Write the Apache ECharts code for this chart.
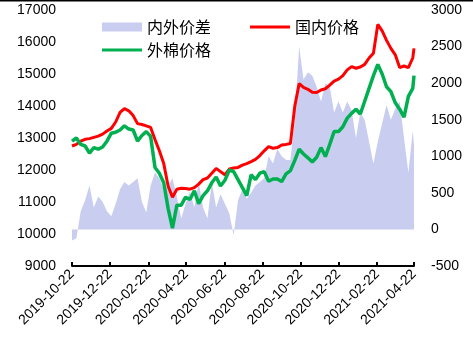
<!DOCTYPE html>
<html>
<head>
<meta charset="utf-8">
<script src="https://cdn.jsdelivr.net/npm/echarts@6/dist/echarts.min.js"></script>
<style>
html,body{margin:0;padding:0;background:#fff;}
#c{width:473px;height:355px;}
</style>
</head>
<body>
<div id="c"></div>
<script>
// Weekly observations starting 2019-10-22, last point 2021-04-22
const startDay = [2019, 9, 22];
const endDay = [2021, 3, 22];
const tickDates = ['2019-10-22','2019-12-22','2020-02-22','2020-04-22','2020-06-22','2020-08-22','2020-10-22','2020-12-22','2021-02-22','2021-04-22'];

const domestic = [12750,12800,12900,12960,12980,13020,13060,13120,13220,13300,
  13500,13800,13920,13850,13700,13450,13420,13380,13330,12950,
  12600,12200,11500,11150,11400,11430,11420,11400,11450,11560,
  11700,11750,11900,12050,11950,11850,12030,12060,12080,12150,
  12200,12260,12330,12450,12600,12730,12680,12700,12780,12800,
  12830,14000,14700,14580,14520,14430,14420,14500,14540,14650,
  14780,14840,14950,15130,15230,15180,15220,15300,15500,15650,
  16550,16350,16050,15800,15600,15200,15250,15200,15500,15800];

const foreign = [12900,13000,12800,12750,12530,12700,12650,12720,12900,13150,
  13180,13250,13380,13280,13250,12900,13080,13200,13050,12080,
  11900,11600,10800,10180,10900,10900,11150,11080,11350,10950,
  11200,11350,11600,11780,11500,11680,12000,11950,11700,11450,
  11200,11850,11700,11900,11950,11650,11720,11720,11640,11880,
  11980,12300,12650,12500,12380,12250,12400,12700,12420,12800,
  13200,13200,13350,13620,13770,13900,13750,14150,14550,14950,
  15300,15000,14600,14450,14100,13900,13650,14300,14550,14950];

const spread = [-150,-120,250,400,600,300,450,380,250,180,
  350,550,650,600,650,700,380,230,600,780,
  700,550,600,700,450,150,350,520,300,650,
  300,150,650,300,480,350,220,-80,400,550,
  420,500,600,650,700,1000,900,1100,1000,950,
  950,1500,2500,2050,2150,2100,1950,1750,2000,1950,
  1600,1750,1600,1750,1630,1250,1600,1500,1200,900,
  1200,1450,1700,1500,1650,1750,1250,780,1350,1150];

const leftTicks = {min: 9000, max: 17000, interval: 1000};
const rightTicks = {min: -500, max: 3000, interval: 500};

function dayTs(y, m, d) { return new Date(y, m, d).getTime(); }
const dates = [];
for (let k = 0; k < domestic.length - 1; k++) {
  dates.push(dayTs(startDay[0], startDay[1], startDay[2] + 7 * k));
}
dates.push(dayTs(endDay[0], endDay[1], endDay[2]));
const tickTs = tickDates.map(s => { const p = s.split('-').map(Number); return dayTs(p[0], p[1]-1, p[2]); });

function pad(n){ return (n < 10 ? '0' : '') + n; }
function fmt(ts){ const d = new Date(ts); return d.getFullYear() + '-' + pad(d.getMonth()+1) + '-' + pad(d.getDate()); }

const zip = arr => arr.map((v, i) => [dates[i], v]);

const numFont = 'Liberation Sans';
const cjkFont = '"Noto Sans CJK SC", "Noto Sans", sans-serif';

const chart = echarts.init(document.getElementById('c'));
chart.setOption({
  animation: false,
  backgroundColor: '#fff',
  grid: {left: 72, right: 59, top: 10, bottom: 89, containLabel: false, outerBoundsMode: 'none'},
  graphic: [{type: 'rect', left: 0, top: 0, shape: {width: 473, height: 1.5}, style: {fill: '#000'}, silent: true}],
  legend: [
    {data: ['内外价差'], left: 97, top: 14, icon: 'rect', itemWidth: 40, itemHeight: 9, itemGap: 10,
     textStyle: {fontSize: 16, color: '#000', fontFamily: cjkFont}, selectedMode: false},
    {data: ['国内价格'], left: 245, top: 14, icon: 'rect', itemWidth: 40, itemHeight: 3,
     textStyle: {fontSize: 16, color: '#000', fontFamily: cjkFont}, selectedMode: false},
    {data: ['外棉价格'], left: 97, top: 37, icon: 'rect', itemWidth: 40, itemHeight: 3,
     textStyle: {fontSize: 16, color: '#000', fontFamily: cjkFont}, selectedMode: false}
  ],
  xAxis: {
    type: 'value',
    min: dates[0], max: dates[dates.length - 1],
    axisLine: {show: true, onZero: false, lineStyle: {color: '#000', width: 2}},
    axisTick: {show: true, inside: true, length: 4, lineStyle: {color: '#000', width: 2}, customValues: tickTs},
    axisLabel: {rotate: 45, fontSize: 14, color: '#000', fontFamily: numFont, margin: 6,
      customValues: tickTs, formatter: v => fmt(v), hideOverlap: false, showMinLabel: true, showMaxLabel: true},
    splitLine: {show: false}
  },
  yAxis: [
    {type: 'value', min: leftTicks.min, max: leftTicks.max, interval: leftTicks.interval,
     axisLine: {show: false}, axisTick: {show: false}, splitLine: {show: false},
     axisLabel: {fontSize: 14, color: '#000', fontFamily: numFont, margin: 16, formatter: v => String(v)}},
    {type: 'value', min: rightTicks.min, max: rightTicks.max, interval: rightTicks.interval,
     axisLine: {show: false}, axisTick: {show: false}, splitLine: {show: false},
     axisLabel: {fontSize: 14, color: '#000', fontFamily: numFont, margin: 17, formatter: v => String(v)}}
  ],
  series: [
    {name: '内外价差', type: 'line', yAxisIndex: 1, data: zip(spread), symbol: 'none',
     lineStyle: {width: 0, color: '#C9CEF0'}, itemStyle: {color: '#C9CEF0'},
     areaStyle: {color: '#C9CEF0', opacity: 1, origin: 0}, z: 1},
    {name: '国内价格', type: 'line', yAxisIndex: 0, data: zip(domestic), symbol: 'none',
     lineStyle: {width: 3, color: '#FF0000'}, itemStyle: {color: '#FF0000'}, z: 2},
    {name: '外棉价格', type: 'line', yAxisIndex: 0, data: zip(foreign), symbol: 'none',
     lineStyle: {width: 3.5, color: '#00B050'}, itemStyle: {color: '#00B050'}, z: 3}
  ]
});
</script>
</body>
</html>
